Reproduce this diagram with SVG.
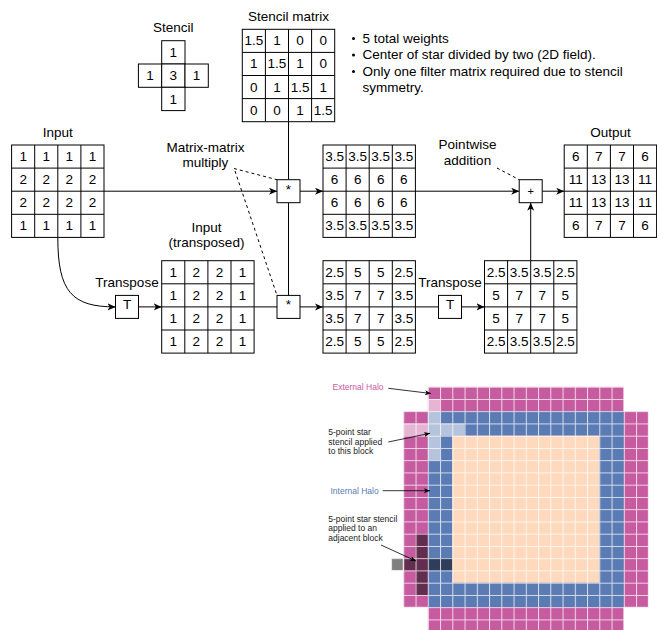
<svg xmlns="http://www.w3.org/2000/svg" xmlns:xlink="http://www.w3.org/1999/xlink" width="657" height="630" viewBox="0 0 657 630">
<style>
text{font-family:"Liberation Sans",Arial,sans-serif;fill:#000}
.t{font-size:13.5px;text-anchor:middle}
.b{font-size:13.5px;text-anchor:start}
.s{font-size:8.5px;text-anchor:start;fill:#222}
.ln{fill:none;stroke:#000;stroke-width:1}
.ar{marker-end:url(#arr)}
.da{fill:none;stroke:#000;stroke-width:1;stroke-dasharray:3 3}
.box{fill:#fff;stroke:#000;stroke-width:1}
.sl{fill:none;stroke:#000;stroke-width:0.8;marker-end:url(#sarr)}
</style>
<defs>
<marker id="arr" markerUnits="userSpaceOnUse" markerWidth="10" markerHeight="10" refX="8" refY="3.5" orient="auto"><path d="M0,0L8,3.5L0,7L2.2,3.5Z" fill="#000"/></marker>
<marker id="sarr" markerUnits="userSpaceOnUse" markerWidth="8" markerHeight="8" refX="6" refY="2.5" orient="auto"><path d="M0,0L6,2.5L0,5L1.5,2.5Z" fill="#000"/></marker>
<g id="m4"><rect x="0" y="0" width="92.4" height="92.4" fill="#fff" stroke="#000"/><path d="M23.1,0V92.4M46.2,0V92.4M69.3,0V92.4M0,23.1H92.4M0,46.2H92.4M0,69.3H92.4" stroke="#000" fill="none"/></g>
<pattern id="gp" patternUnits="userSpaceOnUse" x="403.3" y="386.7" width="12.25" height="12.25"><path d="M0,0.5H12.25M0.5,0V12.25" stroke="#fff" stroke-opacity="0.75" stroke-width="1" fill="none"/></pattern>
</defs>
<rect width="657" height="630" fill="#fff"/>

<g id="connectors">
<path class="ln" d="M288.5,121.7V179.7M288.5,202.7V295.4"/>
<path class="ln ar" d="M104,191.2H277"/>
<path class="ln ar" d="M300,191.2H323"/>
<path class="ln ar" d="M57.8,237.4C57.8,292 72,306.9 115.5,306.9"/>
<path class="ln ar" d="M138.5,306.9H161.7"/>
<path class="ln" d="M254.1,306.9H277"/>
<path class="ln ar" d="M300,306.9H323"/>
<path class="ln" d="M415.4,306.9H438.5"/>
<path class="ln ar" d="M461.5,306.9H484.5"/>
<path class="ln ar" d="M530.7,260.7V202.7"/>
<path class="ln ar" d="M415.4,191.2H519.2"/>
<path class="ln ar" d="M542.2,191.2H564.2"/>
<path class="da" d="M234,168.5L277,179.7"/>
<path class="da" d="M235,171L277,295.4"/>
<path class="da" d="M497,168L519.2,179.7"/>
</g>

<g id="stencil">
<text class="t" x="173.3" y="31.5">Stencil</text>
<g fill="#fff" stroke="#000">
<rect x="161.7" y="40.7" width="23.3" height="23.3"/>
<rect x="138.4" y="64" width="23.3" height="23.3"/>
<rect x="161.7" y="64" width="23.3" height="23.3"/>
<rect x="185" y="64" width="23.3" height="23.3"/>
<rect x="161.7" y="87.3" width="23.3" height="23.3"/>
</g>
<text class="t" x="173.3" y="57">1</text>
<text class="t" x="150" y="80.3">1</text>
<text class="t" x="173.3" y="80.3">3</text>
<text class="t" x="196.6" y="80.3">1</text>
<text class="t" x="173.3" y="103.6">1</text>
</g>

<g id="stencil-matrix">
<text class="t" x="288.5" y="20.5">Stencil matrix</text>
<use xlink:href="#m4" x="242.3" y="29.3"/>
<g transform="translate(242.3,29.3)">
<text class="t" x="11.55" y="16.1">1.5</text><text class="t" x="34.65" y="16.1">1</text><text class="t" x="57.75" y="16.1">0</text><text class="t" x="80.85" y="16.1">0</text>
<text class="t" x="11.55" y="39.2">1</text><text class="t" x="34.65" y="39.2">1.5</text><text class="t" x="57.75" y="39.2">1</text><text class="t" x="80.85" y="39.2">0</text>
<text class="t" x="11.55" y="62.3">0</text><text class="t" x="34.65" y="62.3">1</text><text class="t" x="57.75" y="62.3">1.5</text><text class="t" x="80.85" y="62.3">1</text>
<text class="t" x="11.55" y="85.4">0</text><text class="t" x="34.65" y="85.4">0</text><text class="t" x="57.75" y="85.4">1</text><text class="t" x="80.85" y="85.4">1.5</text>
</g>
</g>

<g id="notes">
<circle cx="353.5" cy="38.5" r="1.5"/><text class="b" x="362.5" y="42.5">5 total weights</text>
<circle cx="353.5" cy="55" r="1.5"/><text class="b" x="362.5" y="59">Center of star divided by two (2D field).</text>
<circle cx="353.5" cy="71.5" r="1.5"/><text class="b" x="362.5" y="75.5">Only one filter matrix required due to stencil</text>
<text class="b" x="362.5" y="92">symmetry.</text>
</g>

<g id="input">
<text class="t" x="57.8" y="137">Input</text>
<use xlink:href="#m4" x="11.6" y="145"/>
<g transform="translate(11.6,145)">
<text class="t" x="11.55" y="16.1">1</text><text class="t" x="34.65" y="16.1">1</text><text class="t" x="57.75" y="16.1">1</text><text class="t" x="80.85" y="16.1">1</text>
<text class="t" x="11.55" y="39.2">2</text><text class="t" x="34.65" y="39.2">2</text><text class="t" x="57.75" y="39.2">2</text><text class="t" x="80.85" y="39.2">2</text>
<text class="t" x="11.55" y="62.3">2</text><text class="t" x="34.65" y="62.3">2</text><text class="t" x="57.75" y="62.3">2</text><text class="t" x="80.85" y="62.3">2</text>
<text class="t" x="11.55" y="85.4">1</text><text class="t" x="34.65" y="85.4">1</text><text class="t" x="57.75" y="85.4">1</text><text class="t" x="80.85" y="85.4">1</text>
</g>
</g>

<g id="mm-label">
<text class="t" x="205.5" y="152">Matrix-matrix</text>
<text class="t" x="205.5" y="167">multiply</text>
</g>

<g id="mult-top"><rect class="box" x="277" y="179.7" width="23" height="23"/><text class="t" x="288.5" y="193.7">*</text></g>
<g id="mult-bottom"><rect class="box" x="277" y="295.4" width="23" height="23"/><text class="t" x="288.5" y="309.4">*</text></g>

<g id="transpose1">
<text class="t" x="127" y="287">Transpose</text>
<rect class="box" x="115.5" y="295.4" width="23" height="23"/><text class="t" x="127" y="308.8">T</text>
</g>

<g id="input-transposed">
<text class="t" x="206.5" y="232">Input</text>
<text class="t" x="206.5" y="247">(transposed)</text>
<use xlink:href="#m4" x="161.7" y="260.7"/>
<g transform="translate(161.7,260.7)">
<text class="t" x="11.55" y="16.1">1</text><text class="t" x="34.65" y="16.1">2</text><text class="t" x="57.75" y="16.1">2</text><text class="t" x="80.85" y="16.1">1</text>
<text class="t" x="11.55" y="39.2">1</text><text class="t" x="34.65" y="39.2">2</text><text class="t" x="57.75" y="39.2">2</text><text class="t" x="80.85" y="39.2">1</text>
<text class="t" x="11.55" y="62.3">1</text><text class="t" x="34.65" y="62.3">2</text><text class="t" x="57.75" y="62.3">2</text><text class="t" x="80.85" y="62.3">1</text>
<text class="t" x="11.55" y="85.4">1</text><text class="t" x="34.65" y="85.4">2</text><text class="t" x="57.75" y="85.4">2</text><text class="t" x="80.85" y="85.4">1</text>
</g>
</g>

<g id="result1">
<use xlink:href="#m4" x="323" y="145"/>
<g transform="translate(323,145)">
<text class="t" x="11.55" y="16.1">3.5</text><text class="t" x="34.65" y="16.1">3.5</text><text class="t" x="57.75" y="16.1">3.5</text><text class="t" x="80.85" y="16.1">3.5</text>
<text class="t" x="11.55" y="39.2">6</text><text class="t" x="34.65" y="39.2">6</text><text class="t" x="57.75" y="39.2">6</text><text class="t" x="80.85" y="39.2">6</text>
<text class="t" x="11.55" y="62.3">6</text><text class="t" x="34.65" y="62.3">6</text><text class="t" x="57.75" y="62.3">6</text><text class="t" x="80.85" y="62.3">6</text>
<text class="t" x="11.55" y="85.4">3.5</text><text class="t" x="34.65" y="85.4">3.5</text><text class="t" x="57.75" y="85.4">3.5</text><text class="t" x="80.85" y="85.4">3.5</text>
</g>
</g>

<g id="result2">
<use xlink:href="#m4" x="323" y="260.7"/>
<g transform="translate(323,260.7)">
<text class="t" x="11.55" y="16.1">2.5</text><text class="t" x="34.65" y="16.1">5</text><text class="t" x="57.75" y="16.1">5</text><text class="t" x="80.85" y="16.1">2.5</text>
<text class="t" x="11.55" y="39.2">3.5</text><text class="t" x="34.65" y="39.2">7</text><text class="t" x="57.75" y="39.2">7</text><text class="t" x="80.85" y="39.2">3.5</text>
<text class="t" x="11.55" y="62.3">3.5</text><text class="t" x="34.65" y="62.3">7</text><text class="t" x="57.75" y="62.3">7</text><text class="t" x="80.85" y="62.3">3.5</text>
<text class="t" x="11.55" y="85.4">2.5</text><text class="t" x="34.65" y="85.4">5</text><text class="t" x="57.75" y="85.4">5</text><text class="t" x="80.85" y="85.4">2.5</text>
</g>
</g>

<g id="transpose2">
<text class="t" x="450" y="286.5">Transpose</text>
<rect class="box" x="438.5" y="295.4" width="23" height="23"/><text class="t" x="450" y="308.8">T</text>
</g>

<g id="result3">
<use xlink:href="#m4" x="484.5" y="260.7"/>
<g transform="translate(484.5,260.7)">
<text class="t" x="11.55" y="16.1">2.5</text><text class="t" x="34.65" y="16.1">3.5</text><text class="t" x="57.75" y="16.1">3.5</text><text class="t" x="80.85" y="16.1">2.5</text>
<text class="t" x="11.55" y="39.2">5</text><text class="t" x="34.65" y="39.2">7</text><text class="t" x="57.75" y="39.2">7</text><text class="t" x="80.85" y="39.2">5</text>
<text class="t" x="11.55" y="62.3">5</text><text class="t" x="34.65" y="62.3">7</text><text class="t" x="57.75" y="62.3">7</text><text class="t" x="80.85" y="62.3">5</text>
<text class="t" x="11.55" y="85.4">2.5</text><text class="t" x="34.65" y="85.4">3.5</text><text class="t" x="57.75" y="85.4">3.5</text><text class="t" x="80.85" y="85.4">2.5</text>
</g>
</g>

<g id="pointwise-label">
<text class="t" x="467.5" y="149">Pointwise</text>
<text class="t" x="467.5" y="165">addition</text>
</g>

<g id="plus"><rect class="box" x="519.2" y="179.7" width="23" height="23"/><text x="530.7" y="195" style="font-size:11px;text-anchor:middle">+</text></g>

<g id="output">
<text class="t" x="610.4" y="137">Output</text>
<use xlink:href="#m4" x="564.2" y="145"/>
<g transform="translate(564.2,145)">
<text class="t" x="11.55" y="16.1">6</text><text class="t" x="34.65" y="16.1">7</text><text class="t" x="57.75" y="16.1">7</text><text class="t" x="80.85" y="16.1">6</text>
<text class="t" x="11.55" y="39.2">11</text><text class="t" x="34.65" y="39.2">13</text><text class="t" x="57.75" y="39.2">13</text><text class="t" x="80.85" y="39.2">11</text>
<text class="t" x="11.55" y="62.3">11</text><text class="t" x="34.65" y="62.3">13</text><text class="t" x="57.75" y="62.3">13</text><text class="t" x="80.85" y="62.3">11</text>
<text class="t" x="11.55" y="85.4">6</text><text class="t" x="34.65" y="85.4">7</text><text class="t" x="57.75" y="85.4">7</text><text class="t" x="80.85" y="85.4">6</text>
</g>
</g>

<g id="halo-grid">
<path d="M427.8,386.7H623.8V411.2H648.3V607.2H623.8V631.7H427.8V607.2H403.3V411.2H427.8Z" fill="#c75b9f"/>
<rect x="427.8" y="411.2" width="196" height="196" fill="#5b7bb4"/>
<rect x="452.3" y="435.7" width="147" height="147" fill="#ffd9bd"/>
<path d="M427.8,398.95H440.05V423.45H464.55V435.7H440.05V460.2H427.8V435.7H403.3V423.45H427.8Z" fill="#fff" fill-opacity="0.55"/>
<path d="M415.55,533.7H427.8V558.2H452.3V570.45H427.8V594.95H415.55V570.45H391.05V558.2H415.55Z" fill="#000" fill-opacity="0.5"/>
<path d="M427.8,386.7H623.8V411.2H648.3V607.2H623.8V631.7H427.8V607.2H403.3V411.2H427.8Z" fill="url(#gp)" stroke="#fff" stroke-opacity="0.6" stroke-width="1"/>
<rect x="391.05" y="558.2" width="12.25" height="12.25" fill="url(#gp)" stroke="#fff" stroke-opacity="0.6" stroke-width="1"/>
</g>

<g id="halo-labels">
<text class="s" x="332.5" y="389.5" style="fill:#c75b9f">External Halo</text>
<path class="sl" d="M388.3,388.3L431,393.5"/>
<text class="s" x="328.3" y="435">5-point star</text>
<text class="s" x="328.3" y="444.5">stencil applied</text>
<text class="s" x="328.3" y="454">to this block</text>
<path class="sl" d="M388.3,442L430,433.3"/>
<text class="s" x="330.5" y="494" style="fill:#5b7bb4">Internal Halo</text>
<path class="sl" d="M382.7,490.7H430"/>
<text class="s" x="328.3" y="521.5">5-point star stencil</text>
<text class="s" x="328.3" y="531">applied to an</text>
<text class="s" x="328.3" y="540.7">adjacent block</text>
<path class="sl" d="M381,545L416,561"/>
</g>
</svg>
